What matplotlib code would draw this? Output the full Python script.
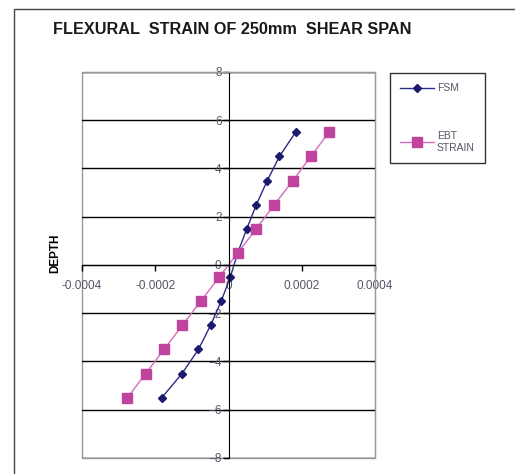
import matplotlib.pyplot as plt
from matplotlib.patches import Rectangle

# depth positions (same for both series)
depth = [5.5, 4.5, 3.5, 2.5, 1.5, 0.5, -0.5, -1.5, -2.5, -3.5, -4.5, -5.5]

# strain values
fsm = [1.83e-4, 1.39e-4, 1.06e-4, 0.76e-4, 0.50e-4, 0.25e-4,
       0.05e-4, -0.20e-4, -0.49e-4, -0.82e-4, -1.27e-4, -1.82e-4]
ebt = [2.74e-4, 2.25e-4, 1.76e-4, 1.25e-4, 0.76e-4, 0.25e-4,
       -0.25e-4, -0.76e-4, -1.26e-4, -1.76e-4, -2.26e-4, -2.76e-4]

x_ticks = [-0.0004, -0.0002, 0, 0.0002, 0.0004]
x_labels = ['-0.0004', '-0.0002', '0', '0.0002', '0.0004']
y_ticks = [-8, -6, -4, -2, 0, 2, 4, 6, 8]

plt.rcParams['font.family'] = ['Liberation Sans', 'DejaVu Sans']

fig = plt.figure(figsize=(5.15, 4.74), dpi=100)
ax = fig.add_axes([82/515, 1-458/474, 293/515, 386/474])

ax.plot(fsm, depth, color='#2B2B86', lw=1, marker='D', ms=4.5,
        mfc='#1A1A6E', mec='#1A1A6E', label='FSM')
ax.plot(ebt, depth, color='#D36BC0', lw=1, marker='s', ms=7.5,
        mfc='#C0449E', mec='#C0449E', label='EBT\nSTRAIN')

ax.set_xlim(-0.0004, 0.0004)
ax.set_ylim(-8, 8)
ax.set_xticks(x_ticks)
ax.set_xticklabels(x_labels)
ax.set_yticks(y_ticks)

# axes crossing at zero
ax.spines['left'].set_position(('data', 0))
ax.spines['bottom'].set_position(('data', 0))
ax.spines['left'].set_color('black')
ax.spines['bottom'].set_color('black')
ax.spines['top'].set_color('#999999')
ax.spines['right'].set_color('#999999')
ax.patch.set_edgecolor('#999999')
ax.patch.set_linewidth(1)

ax.yaxis.grid(True, color='black', lw=1)
ax.set_axisbelow(True)
ax.tick_params(axis='both', direction='out', length=4, width=1,
               labelsize=8.5, labelcolor='#555566', pad=1)
ax.tick_params(axis='x', pad=7)

ax.set_ylabel('DEPTH', fontsize=8.5, fontweight='bold')
ax.yaxis.set_label_coords(-0.07, 0.53)

fig.text(53/515, 1-30/474, 'FLEXURAL  STRAIN OF 250mm  SHEAR SPAN',
         fontsize=11.7, fontweight='bold', color='#1a1a1a', va='center')

leg = fig.legend(loc='upper left', bbox_to_anchor=(390/515, 1-73/474),
                 fontsize=7.5, frameon=True, fancybox=False, edgecolor='black',
                 handlelength=3.2, labelspacing=3.6, borderpad=1.0,
                 handletextpad=0.3, borderaxespad=0)
leg.get_frame().set_linewidth(1)
for t in leg.get_texts():
    t.set_color('#555566')

fig.add_artist(Rectangle((14/515, -0.1), 2, 1-9/474+0.1,
                         transform=fig.transFigure, fill=False,
                         edgecolor='#444444', lw=1))

fig.savefig('out.png', dpi=100)
